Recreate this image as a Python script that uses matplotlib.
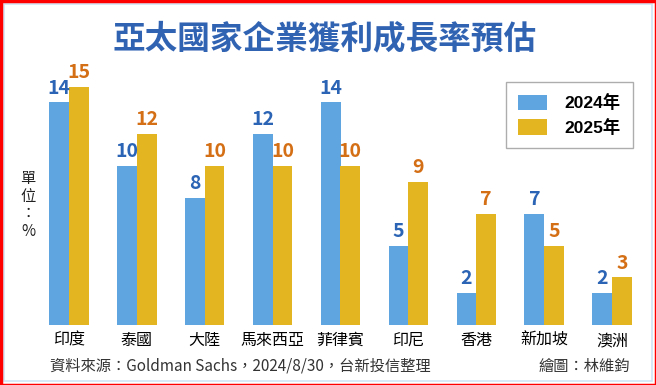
import numpy as np
import matplotlib.pyplot as plt
from matplotlib.patches import Rectangle

plt.rcParams['font.family'] = ['Noto Sans CJK TC', 'DejaVu Sans']

countries = ['印度', '泰國', '大陸', '馬來西亞', '菲律賓', '印尼', '香港', '新加坡', '澳洲']
v2024 = [14, 10, 8, 12, 14, 5, 2, 7, 2]
v2025 = [15, 12, 10, 10, 10, 9, 7, 5, 3]

blue = '#5fa5e0'
gold = '#e3b520'
blue_txt = '#2b64b4'
orange_txt = '#d46f16'

W, H = 656, 385
fig = plt.figure(figsize=(W/100, H/100), dpi=100)
ax = fig.add_axes([35/W, 60/H, 611/W, 254.4/H])

x = np.arange(len(countries))
bw = 0.29
ax.bar(x - bw/2, v2024, bw, color=blue, label='2024年')
ax.bar(x + bw/2, v2025, bw, color=gold, label='2025年')

for i in range(len(x)):
    ax.text(x[i] - bw/2, v2024[i] + 0.3, str(v2024[i]), ha='center', va='bottom',
            color=blue_txt, fontsize=14, fontweight='bold')
    ax.text(x[i] + bw/2, v2025[i] + 0.3, str(v2025[i]), ha='center', va='bottom',
            color=orange_txt, fontsize=14, fontweight='bold')

ax.set_xlim(-0.5, 8.5)
ax.set_ylim(0, 16)
ax.set_xticks(x)
ax.set_xticklabels(countries, fontsize=11.5)
ax.tick_params(axis='x', length=0, pad=5)
ax.set_yticks([])
for s in ax.spines.values():
    s.set_visible(False)

leg = ax.legend(loc='upper left', bbox_to_anchor=(462/611, 1 - 3/254.4),
                frameon=True, fancybox=False, edgecolor='#999999', handlelength=1.7,
                handleheight=1.0, borderpad=0.7, labelspacing=0.45, handletextpad=1.0,
                prop={'family': ['Liberation Sans', 'Noto Sans CJK TC'], 'size': 12.5,
                      'weight': 'bold'})
leg.get_frame().set_linewidth(1.0)

fig.text(325/W, 1 - 39/H, '亞太國家企業獲利成長率預估', ha='center', va='center',
         fontsize=23.5, fontweight='bold', color='#3163b3')
fig.text(28/W, 1 - 205/H, '單\n位\n：\n%', ha='center', va='center', fontsize=11,
         linespacing=1.05, color='#222222')
fig.text(50/W, 1 - 366/H, '資料來源：Goldman Sachs，2024/8/30，台新投信整理', ha='left',
         va='center', fontsize=11, color='#333333')
fig.text(630/W, 1 - 366/H, '繪圖：林維鈞', ha='right', va='center', fontsize=11,
         color='#333333')

# frame
fig.patches.append(Rectangle((4/W, 4/H), 1 - 8/W, 1 - 8/H, transform=fig.transFigure,
                             fill=False, edgecolor='#cfe4f5', linewidth=1.2))
fig.patches.append(Rectangle((0.5/W, 0.5/H), 1 - 1/W, 1 - 1/H, transform=fig.transFigure,
                             fill=False, edgecolor='#ff0000', linewidth=2.5))

fig.savefig('out.png', dpi=100)
